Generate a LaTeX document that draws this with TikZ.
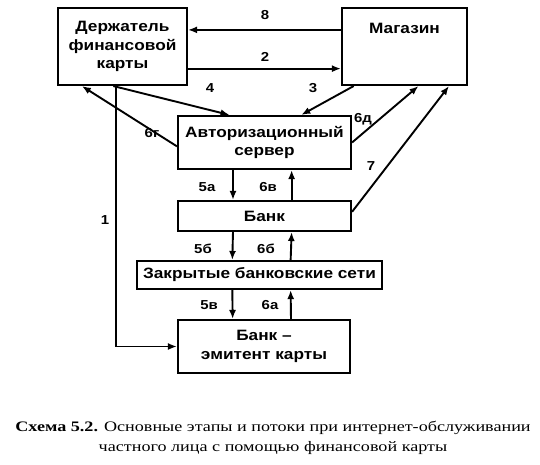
\documentclass[tikz,border=0pt]{standalone}
\usepackage{fontspec}
\setmainfont[FakeStretch=1.15]{Liberation Sans}
\newfontfamily\capfont[FakeStretch=1.25]{Liberation Serif}
\usetikzlibrary{arrows.meta,calc}
\begin{document}
\begin{tikzpicture}[x=1pt,y=-1pt,
  box/.style={draw,line width=2.1pt,inner sep=0pt,align=center,font=\fontsize{15}{18.5}\selectfont\bfseries},
  arr/.style={line width=1.9pt,-{Latex[length=9pt,width=7pt]}},
  lab/.style={font=\fontsize{13}{15}\selectfont\bfseries,inner sep=0pt}]
\useasboundingbox (0,0) rectangle (540,465);
\node[box,minimum width=129pt,minimum height=77pt] (hold) at (122.5,46.5) {Держатель\\финансовой\\карты};
\node[box,minimum width=125pt,minimum height=77pt] (shop) at (404.5,46.5) {Магазин\\\mbox{}\\\mbox{}};
\node[box,minimum width=173pt,minimum height=53pt] (auth) at (264.5,142.5) {Авторизационный\\сервер};
\node[box,minimum width=173pt,minimum height=30pt] (bank) at (264.5,216) {Банк};
\node[box,minimum width=245pt,minimum height=28pt] (net) at (259.5,275) {Закрытые банковские сети};
\node[box,minimum width=172pt,minimum height=53pt] (emit) at (264,346.5) {Банк --\\эмитент карты};
% top horizontal
\draw[arr] ($(shop.north west)!0.29!(shop.south west)$) -- ($(hold.north east)!0.29!(hold.south east)$);
\draw[arr] ($(hold.north east)!0.78!(hold.south east)$) -- ($(shop.north west)!0.78!(shop.south west)$);
\node[lab] (l8) at (265,15) {8};
\node[lab] (l2) at (265,57) {2};
% diagonals
\draw[arr] ($(hold.south west)!0.43!(hold.south east)$) -- ($(auth.north west)!0.30!(auth.north east)$);
\draw[arr] ($(shop.south west)!0.10!(shop.south east)$) -- ($(auth.north west)!0.71!(auth.north east)$);
\draw[arr] ($(auth.north west)!0.57!(auth.south west)$) -- ($(hold.south west)!0.19!(hold.south east)$);
\draw[arr] ($(auth.north east)!0.50!(auth.south east)$) -- ($(shop.south west)!0.61!(shop.south east)$);
\draw[arr] ($(bank.north east)!0.37!(bank.south east)$) -- ($(shop.south west)!0.85!(shop.south east)$);
\node[lab] (l4) at (210,88) {4};
\node[lab] (l3) at (313,88) {3};
\node[lab] (l6g) at (152,133) {6г};
\node[lab] (l6d) at (363,119) {6д};
\node[lab] (l7) at (371,166) {7};
% path 1
\coordinate (c1) at ($(hold.south west)!0.45!(hold.south east)$);
\draw[arr] (c1) |- (emit.west);
\node[lab] (l1) at (105,220) {1};
% vertical
\draw[arr] ($(auth.south west)!0.32!(auth.south east)$) -- ($(bank.north west)!0.32!(bank.north east)$);
\draw[arr] ($(bank.north west)!0.655!(bank.north east)$) -- ($(auth.south west)!0.655!(auth.south east)$);
\draw[arr] ($(bank.south west)!0.32!(bank.south east)$) -- ($(net.north west)!0.39!(net.north east)$);
\draw[arr] ($(net.north west)!0.626!(net.north east)$) -- ($(bank.south west)!0.655!(bank.south east)$);
\draw[arr] ($(net.south west)!0.39!(net.south east)$) -- ($(emit.north west)!0.32!(emit.north east)$);
\draw[arr] ($(emit.north west)!0.655!(emit.north east)$) -- ($(net.south west)!0.626!(net.south east)$);
\node[lab] (l5a) at (207,187) {5а};
\node[lab] (l6v) at (268,187) {6в};
\node[lab] (l5b) at (203,249) {5б};
\node[lab] (l6b) at (266,249) {6б};
\node[lab] (l5v) at (209,305) {5в};
\node[lab] (l6a) at (270,305) {6а};
% caption
\node[font=\capfont\fontsize{14.5}{20}\selectfont,align=center,inner sep=0pt] (cap) at (273,438) {\textbf{Схема 5.2.} Основные этапы и потоки при интернет-обслуживании\\частного лица с помощью финансовой карты};
\end{tikzpicture}
\end{document}
